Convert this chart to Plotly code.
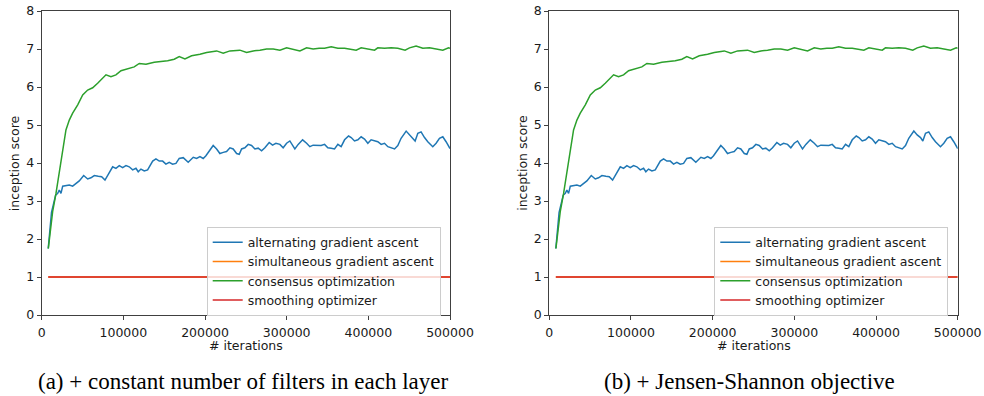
import plotly.graph_objects as go

# Inception score vs. training iterations for four optimizers
iters_alt = [8000, 12000, 17000, 19600, 21500, 23600, 25700, 29700, 33800, 37900, 42000, 46000,
             51400, 56300, 60300, 64400, 69300, 73400, 77500, 82700, 86900, 90900, 95000, 99100,
             103200, 107200, 111400, 115400, 118200, 121500, 125600, 129700, 132900, 135900,
             139900, 144000, 148100, 152100, 156200, 160300, 164400, 168400, 173300, 179400,
             185600, 189700, 193800, 197800, 201100, 206000, 210000, 214200, 218200, 222300,
             226400, 230500, 234500, 238700, 241900, 244800, 248800, 252900, 257000, 261100,
             265100, 269300, 273300, 278600, 282700, 286800, 291700, 295700, 299900, 303900,
             310000, 314100, 319500, 324400, 328400, 332400, 338400, 342200, 346400, 350400,
             354500, 358600, 362700, 366700, 370900, 375800, 379000, 383100, 387200, 391200,
             395300, 399400, 403400, 407600, 411600, 415700, 419800, 423900, 427900, 432100,
             436100, 440100, 446300, 450400, 454500, 457300, 460600, 464600, 468800, 472800,
             478900, 483000, 487100, 491200, 495200, 499300, 500000]
score_alt = [1.75, 2.70, 3.15, 3.20, 3.29, 3.20, 3.39, 3.40, 3.42, 3.39, 3.47, 3.53,
             3.67, 3.58, 3.61, 3.67, 3.65, 3.64, 3.55, 3.73, 3.90, 3.86, 3.93, 3.88,
             3.93, 3.90, 3.82, 3.86, 3.77, 3.84, 3.79, 3.82, 3.95, 4.05,
             4.11, 4.05, 4.05, 3.97, 4.02, 3.97, 3.99, 4.12, 4.14, 4.02,
             4.15, 4.12, 4.17, 4.12, 4.19, 4.34, 4.46, 4.37, 4.25, 4.28,
             4.30, 4.40, 4.37, 4.25, 4.23, 4.37, 4.40, 4.49, 4.46, 4.37,
             4.39, 4.32, 4.40, 4.54, 4.47, 4.52, 4.49, 4.40, 4.52, 4.58,
             4.37, 4.49, 4.61, 4.52, 4.43, 4.47, 4.47, 4.46, 4.49, 4.40,
             4.39, 4.37, 4.49, 4.43, 4.61, 4.71, 4.67, 4.58, 4.61, 4.69,
             4.63, 4.52, 4.61, 4.58, 4.56, 4.49, 4.52, 4.43, 4.40, 4.37,
             4.46, 4.65, 4.84, 4.74, 4.67, 4.58, 4.78, 4.82, 4.67, 4.56,
             4.43, 4.52, 4.65, 4.69, 4.56, 4.40, 4.38]

iters_cons = [8100, 13400, 17500, 21500, 25700, 29700, 33800, 37900, 44100, 50200, 56300,
              62400, 68500, 72600, 78700, 84800, 90900, 97100, 105300, 113300, 119500,
              127700, 137800, 146000, 154200, 162300, 168400, 175400, 183600, 193800,
              202000, 214200, 222300, 230500, 242700, 250900, 259000, 267200, 275400,
              283500, 291700, 299900, 308000, 316200, 324400, 332400, 339800, 346400,
              354500, 362700, 370900, 379000, 385100, 391200, 399400, 407600, 411600,
              419800, 427900, 436100, 445000, 450400, 458500, 466700, 474900, 483000,
              491200, 498200, 500000]
score_cons = [1.75, 2.72, 3.20, 3.73, 4.30, 4.87, 5.13, 5.31, 5.53, 5.79, 5.92,
              5.98, 6.10, 6.20, 6.32, 6.27, 6.32, 6.43, 6.49, 6.53, 6.62,
              6.60, 6.65, 6.67, 6.69, 6.73, 6.80, 6.74, 6.82, 6.86,
              6.91, 6.95, 6.89, 6.95, 6.97, 6.91, 6.95, 6.97, 7.00,
              7.00, 6.97, 7.03, 7.00, 6.95, 7.03, 7.00, 7.02, 7.02,
              7.06, 7.02, 7.02, 7.00, 6.97, 7.03, 7.00, 6.97, 7.03,
              7.02, 7.03, 7.02, 6.97, 7.03, 7.08, 7.02, 7.03, 7.00,
              6.97, 7.03, 7.02]

iters_flat = [8000, 500000]
score_sim = [1.0, 1.0]
score_smooth = [1.0, 1.0]

series_names = ["alternating gradient ascent", "simultaneous gradient ascent",
                "consensus optimization", "smoothing optimizer"]
series_colors = ["#1f77b4", "#ff7f0e", "#2ca02c", "#d62728"]

x_ticks = [0, 100000, 200000, 300000, 400000, 500000]
y_ticks = [0, 1, 2, 3, 4, 5, 6, 7, 8]
captions = ["(a) + constant number of filters in each layer", "(b) + Jensen-Shannon objective"]

W, H = 984, 396
FONT = "DejaVu Sans"
FS = 12.5

fig = go.Figure()

series = [(iters_alt, score_alt), (iters_flat, score_sim),
          (iters_cons, score_cons), (iters_flat, score_smooth)]

for p, (xa, ya, leg) in enumerate([("x", "y", "legend"), ("x2", "y2", "legend2")]):
    for (xs, ys), name, col in zip(series, series_names, series_colors):
        fig.add_trace(go.Scatter(
            x=xs, y=ys, mode="lines", name=name,
            line=dict(color=col, width=1.5),
            xaxis=xa, yaxis=ya, legend=leg, showlegend=True,
        ))

# panel geometry in pixels
panels = [(41.7, 450.0), (549.3, 957.7)]
y_top, y_bot = 11.0, 315.0

axis_common = dict(
    showgrid=False, zeroline=False, showline=True, linecolor="#404040", linewidth=1,
    mirror=True, ticks="outside", ticklen=4, tickwidth=1, tickcolor="#404040",
    tickfont=dict(family=FONT, size=FS, color="#1a1a1a"), automargin=False,
)

layout_axes = {}
for i, (l, r) in enumerate(panels):
    sfx = "" if i == 0 else str(i + 1)
    layout_axes["xaxis" + sfx] = dict(
        axis_common, domain=[l / W, r / W], range=[0, 500000],
        tickvals=x_ticks, ticktext=[str(v) for v in x_ticks],
        anchor="y" + sfx, ticklabelstandoff=2,
    )
    layout_axes["yaxis" + sfx] = dict(
        axis_common, domain=[1 - y_bot / H, 1 - y_top / H], range=[0, 8],
        tickvals=y_ticks, ticktext=[str(v) for v in y_ticks],
        anchor="x" + sfx,
    )

legend_style = dict(
    bgcolor="rgba(255,255,255,0.8)", bordercolor="#cccccc", borderwidth=1,
    font=dict(family=FONT, size=12.5, color="#1a1a1a"),
    xanchor="left", yanchor="top", y=1 - 226.5 / H,
    itemwidth=30, tracegroupgap=0,
)

annotations = []
for i, (l, r) in enumerate(panels):
    cx = (l + r) / 2
    annotations.append(dict(
        text="# iterations", x=cx / W, y=1 - 345 / H, xref="paper", yref="paper",
        showarrow=False, xanchor="center", yanchor="middle",
        font=dict(family=FONT, size=FS, color="#1a1a1a"),
    ))
    annotations.append(dict(
        text="inception score", x=(l - 26.5) / W, y=1 - 163 / H, xref="paper", yref="paper",
        showarrow=False, xanchor="center", yanchor="middle", textangle=-90,
        font=dict(family=FONT, size=FS, color="#1a1a1a"),
    ))
    annotations.append(dict(
        text=captions[i], x=(243 if i == 0 else 749) / W, y=1 - 381 / H,
        xref="paper", yref="paper", showarrow=False, xanchor="center", yanchor="middle",
        font=dict(family="Liberation Serif", size=23, color="#000000"),
    ))

fig.update_layout(
    width=W, height=H,
    margin=dict(l=0, r=0, t=0, b=0),
    paper_bgcolor="white", plot_bgcolor="white",
    showlegend=True,
    legend=dict(legend_style, x=206.7 / W),
    legend2=dict(legend_style, x=714.3 / W),
    annotations=annotations,
    **layout_axes,
)

fig.write_html("out.html")
